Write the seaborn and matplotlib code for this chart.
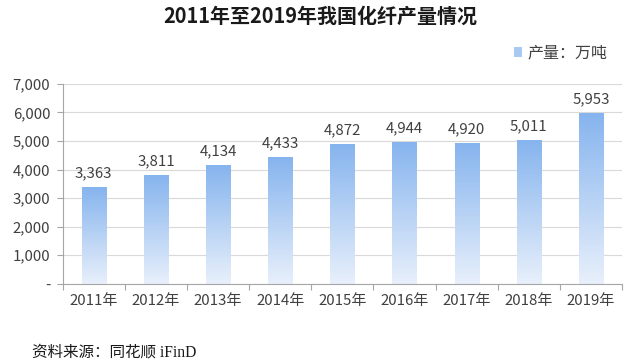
import numpy as np
import pandas as pd
import matplotlib
matplotlib.use("Agg")
import matplotlib.pyplot as plt
import seaborn as sns
from matplotlib.patches import Patch
from matplotlib.colors import LinearSegmentedColormap
from matplotlib.ticker import FuncFormatter, FixedLocator

# Data
years = ['2011年', '2012年', '2013年', '2014年', '2015年', '2016年', '2017年', '2018年', '2019年']
output = [3363, 3811, 4134, 4433, 4872, 4944, 4920, 5011, 5953]

sns.set_theme(style="white")
plt.rcParams['font.family'] = ['Noto Sans CJK SC', 'DejaVu Sans']
plt.rcParams['axes.unicode_minus'] = False

df = pd.DataFrame({'year': years, 'output': output})

fig = plt.figure(figsize=(6.4, 3.63), dpi=100)
ax = fig.add_axes([0.098, 0.218, 0.874, 0.551])

sns.barplot(data=df, x='year', y='output', color='#8cb9ef', width=0.39, ax=ax, zorder=2)

# vertical gradient inside each bar (dark blue at top, pale at bottom)
grad_cmap = LinearSegmentedColormap.from_list('bar', ['#e8f0fb', '#86b4ee'])
grad = np.linspace(0, 1, 256).reshape(-1, 1)
for p in ax.patches:
    x0, w, h = p.get_x(), p.get_width(), p.get_height()
    ax.imshow(grad, extent=[x0, x0 + w, 0, h], origin='lower', cmap=grad_cmap,
              aspect='auto', zorder=2.5, interpolation='bicubic')
    p.set_facecolor('none')
    p.set_edgecolor('none')
    ax.text(x0 + w / 2, h + 250, f'{h:,.0f}', ha='center', va='bottom',
            fontsize=10.8, color='#404040')

ax.set_xlim(-0.5, len(years) - 0.5)
ax.set_ylim(0, 7000)
ax.set_yticks(range(0, 7001, 1000))
ax.yaxis.set_major_formatter(FuncFormatter(lambda v, pos: '-' if v == 0 else f'{v:,.0f}'))
ax.grid(axis='y', color='#d9d9d9', linewidth=0.8, zorder=0)
ax.set_axisbelow(True)

for s in ['top', 'right']:
    ax.spines[s].set_visible(False)
for s in ['left', 'bottom']:
    ax.spines[s].set_color('#a6a6a6')
    ax.spines[s].set_linewidth(0.8)

ax.tick_params(axis='x', which='major', length=0, pad=7, labelsize=10.8, labelcolor='#404040')
ax.xaxis.set_minor_locator(FixedLocator(np.arange(-0.5, len(years), 1.0)))
ax.tick_params(axis='x', which='minor', length=4, color='#a6a6a6', width=0.8, bottom=True)
ax.tick_params(axis='y', length=4, color='#a6a6a6', width=0.8, left=True,
               labelsize=10.8, labelcolor='#404040', pad=5)
ax.set_xlabel('')
ax.set_ylabel('')

fig.text(0.5, 0.955, '2011年至2019年我国化纤产量情况', ha='center', va='center',
         fontsize=14.4, fontweight='bold', color='#1a1a1a')

leg = fig.legend(handles=[Patch(facecolor='#a9c9f2', edgecolor='none', label='产量：万吨')],
                 loc='center left', bbox_to_anchor=(0.78, 0.853), frameon=False,
                 fontsize=11.5, handlelength=0.55, handleheight=0.55, handletextpad=0.3)
for t in leg.get_texts():
    t.set_color('#404040')

fig.text(0.05, 0.028, '资料来源：同花顺 iFinD', ha='left', va='center', fontsize=11.2,
         color='#1a1a1a', family=['Liberation Serif', 'Noto Sans CJK SC'])

fig.savefig('out.png', dpi=100, facecolor='white')
